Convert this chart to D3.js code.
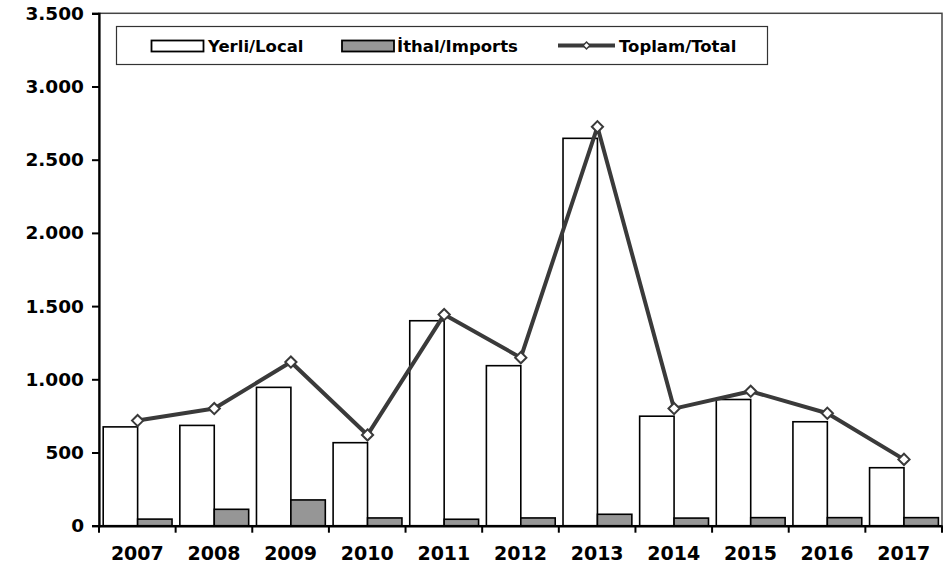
<!DOCTYPE html>
<html>
<head>
<meta charset="utf-8">
<script src="https://cdn.jsdelivr.net/npm/d3@7"></script>
<style>
  html, body { margin: 0; padding: 0; background: #fff; }
  svg { display: block; }
  text { font-family: "DejaVu Sans", Verdana, sans-serif; font-weight: bold; fill: #000; }
</style>
</head>
<body>
<svg id="chart" width="949" height="570"></svg>
<script>
const years = ["2007","2008","2009","2010","2011","2012","2013","2014","2015","2016","2017"];
const localValues = [675, 685, 945, 567, 1400, 1093, 2646, 748, 862, 710, 396];
const importValues = [45, 112, 176, 53, 44, 53, 78, 52, 55, 55, 55];
const totalValues = [718, 800, 1118, 620, 1442, 1148, 2725, 800, 918, 768, 453];
const yTicks = [0, 500, 1000, 1500, 2000, 2500, 3000, 3500];
const seriesNames = ["Yerli/Local", "İthal/Imports", "Toplam/Total"];

const svg = d3.select("#chart");
const pLeft = 99, pRight = 942, pTop = 13.3, pBottom = 525.7;

const x = d3.scaleBand().domain(years).range([pLeft, pRight]).paddingInner(0).paddingOuter(0);
const bw = x.bandwidth();
const x1 = d3.scaleBand().domain(["local", "imports"]).range([4.2, bw - 3.6]).padding(0);
const y = d3.scaleLinear().domain([0, 3500]).range([pBottom, pTop]);

const loc = d3.formatLocale({decimal: ",", thousands: ".", grouping: [3], currency: ["", ""]});
const fmt = loc.format(",");

// plot frame
svg.append("rect")
  .attr("x", pLeft).attr("y", pTop)
  .attr("width", pRight - pLeft).attr("height", pBottom - pTop)
  .attr("fill", "none").attr("stroke", "#444").attr("stroke-width", 1.5);

// bars
const g = svg.append("g");
years.forEach((yr, i) => {
  g.append("rect")
    .attr("x", x(yr) + x1("local")).attr("y", y(localValues[i]))
    .attr("width", x1.bandwidth()).attr("height", y(0) - y(localValues[i]))
    .attr("fill", "#fff").attr("stroke", "#000").attr("stroke-width", 1.6);
  g.append("rect")
    .attr("x", x(yr) + x1("imports")).attr("y", y(importValues[i]))
    .attr("width", x1.bandwidth()).attr("height", y(0) - y(importValues[i]))
    .attr("fill", "#969696").attr("stroke", "#000").attr("stroke-width", 1.6);
});

// y axis
const yAxis = d3.axisLeft(y).tickValues(yTicks).tickFormat(fmt).tickSize(7).tickPadding(8);
const ya = svg.append("g").attr("transform", `translate(${pLeft},0)`).call(yAxis);
ya.select(".domain").attr("stroke", "#000").attr("stroke-width", 2.2);
ya.selectAll(".tick line").attr("stroke", "#000").attr("stroke-width", 2);
ya.selectAll(".tick text").style("font-size", "18.5px").style("font-family", "'DejaVu Sans', Verdana, sans-serif").style("font-weight", "bold").attr("fill", "#000");

// x axis
const xAxis = d3.axisBottom(x).tickSize(0).tickPadding(21);
const xa = svg.append("g").attr("transform", `translate(0,${pBottom})`).call(xAxis);
xa.select(".domain").attr("stroke", "#000").attr("stroke-width", 2.5);
xa.selectAll(".tick text").style("font-size", "19px").style("font-family", "'DejaVu Sans', Verdana, sans-serif").style("font-weight", "bold").attr("fill", "#000");
const bounds = years.map(d => x(d)).concat([x(years[years.length - 1]) + bw]);
xa.selectAll(".bnd").data(bounds).enter().append("line")
  .attr("x1", d => d).attr("x2", d => d).attr("y1", 0).attr("y2", 7)
  .attr("stroke", "#000").attr("stroke-width", 2);

// total line
const cx = yr => x(yr) + x1("imports");
const line = d3.line().x((d, i) => cx(years[i])).y(d => y(d));
svg.append("path").datum(totalValues).attr("d", line)
  .attr("fill", "none").attr("stroke", "#3a3a3a").attr("stroke-width", 4).attr("stroke-linejoin", "round");
const diamond = d3.symbol().type(d3.symbolDiamond2).size(80);
svg.selectAll(".mk").data(totalValues).enter().append("path")
  .attr("d", diamond)
  .attr("transform", (d, i) => `translate(${cx(years[i])},${y(d)})`)
  .attr("fill", "#fff").attr("stroke", "#3a3a3a").attr("stroke-width", 2);

// legend
const lg = svg.append("g");
lg.append("rect").attr("x", 116.5).attr("y", 26.5).attr("width", 651).attr("height", 38)
  .attr("fill", "#fff").attr("stroke", "#333").attr("stroke-width", 1.2);
lg.append("rect").attr("x", 151.5).attr("y", 40.5).attr("width", 52).attr("height", 11)
  .attr("fill", "#fff").attr("stroke", "#000").attr("stroke-width", 1.8);
lg.append("text").attr("x", 208).attr("y", 51.5).style("font-size", "16.5px").text(seriesNames[0]);
lg.append("rect").attr("x", 342).attr("y", 40.5).attr("width", 52).attr("height", 11)
  .attr("fill", "#969696").attr("stroke", "#000").attr("stroke-width", 1.8);
lg.append("text").attr("x", 397).attr("y", 51.5).style("font-size", "16.5px").text(seriesNames[1]);
lg.append("line").attr("x1", 558).attr("x2", 615).attr("y1", 45.5).attr("y2", 45.5)
  .attr("stroke", "#3a3a3a").attr("stroke-width", 4);
lg.append("path").attr("d", d3.symbol().type(d3.symbolDiamond2).size(30))
  .attr("transform", "translate(586.5,45.5)")
  .attr("fill", "#fff").attr("stroke", "#3a3a3a").attr("stroke-width", 1.5);
lg.append("text").attr("x", 619).attr("y", 51.5).style("font-size", "16.5px").text(seriesNames[2]);
</script>
</body>
</html>
